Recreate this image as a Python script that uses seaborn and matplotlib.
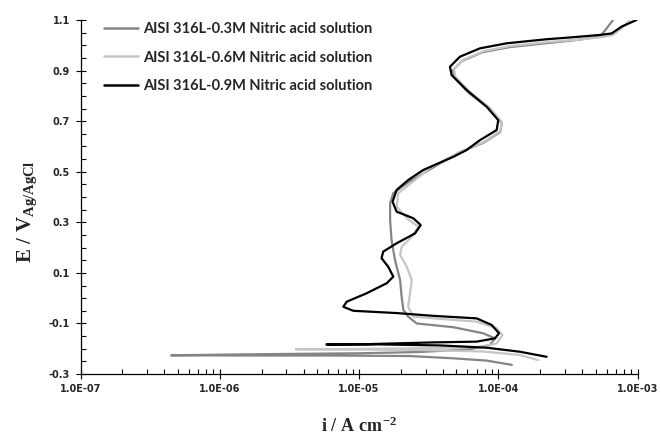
import matplotlib
matplotlib.use("Agg")
import numpy as np
import pandas as pd
import seaborn as sns
import matplotlib.pyplot as plt
from matplotlib.ticker import MultipleLocator, LogLocator, FuncFormatter, NullFormatter

# Potentiodynamic polarisation scans (current density in A/cm2, potential in V vs Ag/AgCl)
series_labels = [
    "AISI 316L-0.3M Nitric acid solution",
    "AISI 316L-0.6M Nitric acid solution",
    "AISI 316L-0.9M Nitric acid solution",
]
series_colors = ["#858585", "#c6c6c6", "#000000"]

i_03M = [1.25e-4, 8.24e-5, 4.75e-5, 2.32e-5, 6.18e-6, 1.65e-6, 4.47e-7, 1.70e-6,
         1.01e-5, 2.74e-5, 6.25e-5, 8.71e-5, 9.46e-5, 7.79e-5, 4.75e-5, 2.59e-5,
         2.25e-5, 2.08e-5, 2.02e-5, 1.97e-5, 1.81e-5, 1.71e-5, 1.67e-5, 1.67e-5,
         1.76e-5, 2.20e-5, 3.81e-5, 5.30e-5, 7.79e-5, 1.03e-4, 1.06e-4, 8.71e-5,
         6.15e-5, 4.80e-5, 4.72e-5, 5.48e-5, 7.75e-5, 1.21e-4, 2.27e-4, 3.43e-4,
         5.36e-4, 5.99e-4, 6.65e-4]
E_03M = [-0.264, -0.247, -0.238, -0.229, -0.227, -0.227, -0.226, -0.222,
         -0.218, -0.213, -0.202, -0.185, -0.159, -0.139, -0.115, -0.100,
         -0.073, -0.047, 0.006, 0.072, 0.151, 0.230, 0.309, 0.375,
         0.415, 0.454, 0.533, 0.578, 0.614, 0.657, 0.693, 0.748,
         0.811, 0.875, 0.902, 0.938, 0.973, 0.993, 1.009, 1.019,
         1.034, 1.067, 1.100]

i_06M = [1.93e-4, 1.43e-4, 7.79e-5, 2.74e-5, 8.61e-6, 3.51e-6, 1.01e-5, 3.81e-5,
         7.79e-5, 9.72e-5, 1.07e-4, 9.72e-5, 6.98e-5, 3.41e-5, 2.45e-5, 2.25e-5,
         2.32e-5, 2.39e-5, 2.20e-5, 1.97e-5, 2.02e-5, 2.39e-5, 2.66e-5, 2.20e-5,
         1.86e-5, 1.91e-5, 2.52e-5, 3.23e-5, 5.13e-5, 7.88e-5, 1.03e-4, 1.06e-4,
         8.71e-5, 6.25e-5, 4.92e-5, 4.80e-5, 5.57e-5, 7.88e-5, 1.21e-4, 2.27e-4,
         3.55e-4, 5.64e-4, 6.65e-4, 7.71e-4, 8.81e-4]
E_06M = [-0.245, -0.225, -0.211, -0.205, -0.203, -0.202, -0.201, -0.197,
         -0.192, -0.179, -0.146, -0.119, -0.093, -0.080, -0.073, -0.034,
         0.019, 0.072, 0.124, 0.171, 0.203, 0.243, 0.283, 0.316,
         0.362, 0.415, 0.467, 0.515, 0.574, 0.618, 0.661, 0.697,
         0.752, 0.815, 0.875, 0.906, 0.942, 0.977, 0.997, 1.013,
         1.021, 1.033, 1.041, 1.068, 1.100]

i_09M = [2.22e-4, 1.43e-4, 8.24e-5, 3.81e-5, 1.41e-5, 5.83e-6, 1.13e-5, 3.41e-5,
         6.98e-5, 9.46e-5, 1.01e-4, 8.95e-5, 6.98e-5, 3.41e-5, 1.86e-5, 9.08e-6,
         7.70e-6, 8.15e-6, 1.13e-5, 1.58e-5, 1.76e-5, 1.62e-5, 1.45e-5, 1.49e-5,
         1.86e-5, 2.52e-5, 2.77e-5, 2.45e-5, 1.86e-5, 1.74e-5, 1.86e-5, 2.25e-5,
         2.89e-5, 4.75e-5, 5.92e-5, 7.38e-5, 9.72e-5, 9.98e-5, 8.24e-5, 5.92e-5,
         4.62e-5, 4.49e-5, 5.30e-5, 7.38e-5, 1.15e-4, 2.22e-4, 3.45e-4, 5.36e-4,
         6.51e-4, 7.67e-4, 9.80e-4]
E_09M = [-0.232, -0.212, -0.196, -0.187, -0.183, -0.183, -0.182, -0.175,
         -0.172, -0.159, -0.139, -0.106, -0.080, -0.070, -0.059, -0.050,
         -0.034, -0.014, 0.019, 0.059, 0.085, 0.124, 0.158, 0.184,
         0.217, 0.256, 0.289, 0.316, 0.342, 0.381, 0.428, 0.467,
         0.507, 0.559, 0.586, 0.625, 0.665, 0.704, 0.757, 0.823,
         0.882, 0.915, 0.955, 0.988, 1.008, 1.024, 1.032, 1.041,
         1.047, 1.074, 1.100]

y_ticks = [-0.3, -0.1, 0.1, 0.3, 0.5, 0.7, 0.9, 1.1]

frames = []
for label, cur, pot in zip(series_labels, [i_03M, i_06M, i_09M], [E_03M, E_06M, E_09M]):
    frames.append(pd.DataFrame({"current": cur, "potential": pot, "solution": label}))
df = pd.concat(frames, ignore_index=True)

sns.set_theme(style="ticks")
plt.rcParams["font.family"] = ["DejaVu Sans"]
plt.rcParams["mathtext.fontset"] = "custom"
plt.rcParams["mathtext.rm"] = "Liberation Serif:bold"
plt.rcParams["mathtext.bf"] = "Liberation Serif:bold"
plt.rcParams["mathtext.it"] = "Liberation Serif:bold"

fig = plt.figure(figsize=(6.61, 4.40), dpi=100)
ax = fig.add_axes([0.1218, 0.15, 0.8429, 0.8045])

sns.lineplot(data=df, x="current", y="potential", hue="solution", units="solution",
             estimator=None, sort=False, palette=series_colors, hue_order=series_labels,
             linewidth=1.6, ax=ax, legend=False)
for ln in ax.get_lines():
    ln.set_solid_joinstyle("round")
    ln.set_solid_capstyle("round")

ax.set_xscale("log")
ax.set_xlim(1e-7, 1e-3)
ax.set_ylim(-0.3, 1.1)

ax.xaxis.set_major_locator(LogLocator(base=10, numticks=10))
ax.xaxis.set_minor_locator(LogLocator(base=10, subs=np.arange(2, 10), numticks=50))
ax.xaxis.set_major_formatter(FuncFormatter(lambda v, p: f"{v:.1E}"))
ax.xaxis.set_minor_formatter(NullFormatter())
ax.set_yticks(y_ticks)
ax.yaxis.set_minor_locator(MultipleLocator(0.05))
ax.yaxis.set_major_formatter(FuncFormatter(lambda v, p: f"{v:.1f}"))

for lab in ax.get_xticklabels() + ax.get_yticklabels():
    lab.set_fontweight("bold")
    lab.set_fontsize(7)
ax.tick_params(axis="both", which="major", direction="inout", length=7, width=0.8,
               color="black", pad=4)
ax.tick_params(axis="both", which="minor", direction="in", length=3.5, width=0.8,
               color="black")

sns.despine(ax=ax)
for s in ("left", "bottom"):
    ax.spines[s].set_color("black")
    ax.spines[s].set_linewidth(0.9)
ax.grid(False)

ax.set_xlabel(r"$\mathbf{i\ /\ A\ cm^{-2}}$", fontsize=13, labelpad=16)
ax.set_ylabel(r"$\mathbf{E\ /\ V_{Ag/AgCl}}$", fontsize=15)
ax.yaxis.set_label_coords(-0.074, 0.46)

handles = [plt.Line2D([], [], color=c, linewidth=1.8) for c in series_colors]
leg = fig.legend(handles, series_labels, loc="upper left",
                 bbox_to_anchor=(104 / 661, 1 - 22 / 440), frameon=False,
                 borderpad=0, borderaxespad=0, handlelength=2.35, handletextpad=0.35,
                 labelspacing=1.0, prop={"family": "Lato", "weight": "bold", "size": 10.5})

fig.savefig("out.png", dpi=100, facecolor="white")
